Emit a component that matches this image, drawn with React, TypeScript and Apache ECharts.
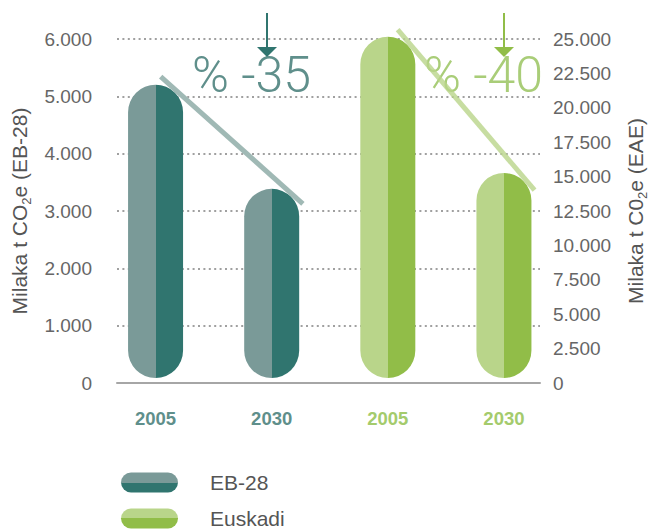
import React, { useEffect, useRef } from "react";
import * as echarts from "echarts";

const years = ["2005", "2030"];
const groups = ["EB-28", "Euskadi"];
const ebValues = [5115, 3300];
const euValues = [24800, 14900];
const leftAxis = { min: 0, max: 6000, interval: 1000 };
const rightAxis = { min: 0, max: 25000, interval: 2500 };
const reductionLabels = ["% -35", "% -40"];

const EB_LIGHT = "#7a9a98";
const EB_DARK = "#30756f";
const EU_LIGHT = "#b9d58a";
const EU_DARK = "#91bd48";
const FONT = "Liberation Sans";

const categories = [
  `${groups[0]} ${years[0]}`,
  `${groups[0]} ${years[1]}`,
  `${groups[1]} ${years[0]}`,
  `${groups[1]} ${years[1]}`,
];

const fmt = (v: number) => String(v).replace(/\B(?=(\d{3})+(?!\d))/g, ".");

const split = (light: string, dark: string, vertical: boolean) =>
  new echarts.graphic.LinearGradient(0, 0, vertical ? 0 : 1, vertical ? 1 : 0, [
    { offset: 0, color: light },
    { offset: 0.5, color: light },
    { offset: 0.5, color: dark },
    { offset: 1, color: dark },
  ]);

const BAR_W = 55;

function trendRender(color: string, before: number, after: number) {
  return (params: any, api: any) => {
    const r = BAR_W / 2;
    const lw = 5;
    const p0 = api.coord([api.value(0), api.value(1)]);
    const p1 = api.coord([api.value(2), api.value(3)]);
    const c0 = [p0[0], p0[1] + r];
    const c1 = [p1[0], p1[1] + r];
    const dx = c1[0] - c0[0];
    const dy = c1[1] - c0[1];
    const len = Math.hypot(dx, dy);
    const d = [dx / len, dy / len];
    const n = [d[1], -d[0]];
    const off = r + lw / 2;
    return {
      type: "line",
      shape: {
        x1: c0[0] + n[0] * off - d[0] * before,
        y1: c0[1] + n[1] * off - d[1] * before,
        x2: c1[0] + n[0] * off + d[0] * after,
        y2: c1[1] + n[1] * off + d[1] * after,
      },
      style: { stroke: color, lineWidth: lw, lineCap: "butt" },
    };
  };
}

const capsule = "path://M10,0 H47 A10,10 0 0 1 47,20 H10 A10,10 0 0 1 10,0 Z";

const nameStyle = {
  fontSize: 21,
  lineHeight: 28,
  color: "#555",
  fontFamily: FONT,
  rich: { sub: { fontSize: 13, color: "#555", verticalAlign: "bottom", lineHeight: 13 } },
};

const legendBase = {
  orient: "vertical",
  left: 121,
  padding: 0,
  itemWidth: 57,
  itemHeight: 20,
  textStyle: {
    fontSize: 21,
    lineHeight: 20,
    color: "#555",
    fontFamily: FONT,
    padding: [0, 0, 0, 27],
  },
};

export default function App() {
  const ref = useRef<HTMLDivElement>(null);
  useEffect(() => {
    if (!ref.current) return;
    const chart = echarts.init(ref.current, undefined, { renderer: "svg" });
    chart.setOption({
      animation: false,
      textStyle: { fontFamily: FONT },
      grid: [
        { left: 117, right: 114, top: 39, bottom: 146, outerBoundsMode: "none", containLabel: false },
        { left: 97.5, right: 92, top: 34, bottom: 151, outerBoundsMode: "none", containLabel: false },
      ],
      xAxis: [
        {
          gridIndex: 0,
          type: "category",
          data: [""],
          axisLine: { show: true, lineStyle: { color: "#a6a6a6", width: 2 } },
          axisTick: { show: false },
          axisLabel: { show: false },
          splitLine: { show: false },
        },
        {
          gridIndex: 1,
          type: "category",
          data: categories,
          axisLine: { show: false },
          axisTick: { show: false },
          axisLabel: {
            margin: 31,
            fontSize: 18.5,
            fontWeight: "bold",
            fontFamily: FONT,
            formatter: (v: string) => v.split(" ").pop(),
            color: (_v: any, i: number) => (i < 2 ? "#5f8f8b" : "#a4cb6c"),
          },
        },
      ],
      yAxis: [
        {
          gridIndex: 0,
          type: "value",
          position: "left",
          ...leftAxis,
          name: "Milaka t CO{sub|2}e (EB-28)",
          nameLocation: "middle",
          nameRotate: 90,
          nameGap: 84,
          nameMoveOverlap: false,
          nameTextStyle: nameStyle,
          axisLine: { show: false },
          axisTick: { show: false },
          axisLabel: { margin: 25, fontSize: 19, color: "#666", formatter: fmt },
          splitLine: {
            show: true,
            lineStyle: { color: "#a0a0a0", width: 2, type: [2, 3.4] },
          },
        },
        {
          gridIndex: 0,
          type: "value",
          position: "right",
          ...rightAxis,
          name: "Milaka t C0{sub|2}e (EAE)",
          nameLocation: "middle",
          nameRotate: 90,
          nameGap: 81,
          nameMoveOverlap: false,
          nameTextStyle: nameStyle,
          axisLine: { show: false },
          axisTick: { show: false },
          axisLabel: { margin: 13, fontSize: 19, color: "#666", formatter: fmt },
          splitLine: { show: false },
        },
        { gridIndex: 1, type: "value", ...leftAxis, show: false },
        { gridIndex: 1, type: "value", ...rightAxis, show: false },
      ],
      legend: [
        {
          ...legendBase,
          top: 472,
          data: [{ name: groups[0], icon: capsule, itemStyle: { color: split(EB_LIGHT, EB_DARK, true) } }],
        },
        {
          ...legendBase,
          top: 508,
          data: [{ name: groups[1], icon: capsule, itemStyle: { color: split(EU_LIGHT, EU_DARK, true) } }],
        },
      ],
      graphic: [
        {
          type: "text",
          x: 192,
          y: 75,
          z: 1,
          style: {
            text: reductionLabels[0],
            fontSize: 50,
            fontWeight: 300,
            fontFamily: "Roboto",
            fill: "#5f8f8b",
            verticalAlign: "middle",
          },
        },
        {
          type: "text",
          x: 424,
          y: 75,
          z: 1,
          style: {
            text: reductionLabels[1],
            fontSize: 50,
            fontWeight: 300,
            fontFamily: "Roboto",
            fill: "#a9cd78",
            verticalAlign: "middle",
          },
        },
        { type: "line", z: 1, shape: { x1: 267, y1: 13, x2: 267, y2: 48 }, style: { stroke: EB_DARK, lineWidth: 2 } },
        { type: "polygon", z: 1, shape: { points: [[257, 47], [277, 47], [267, 57]] }, style: { fill: EB_DARK } },
        { type: "line", z: 1, shape: { x1: 504, y1: 13, x2: 504, y2: 48 }, style: { stroke: EU_DARK, lineWidth: 2 } },
        { type: "polygon", z: 1, shape: { points: [[494, 47], [514, 47], [504, 57]] }, style: { fill: EU_DARK } },
      ],
      series: [
        {
          name: groups[0],
          type: "bar",
          xAxisIndex: 1,
          yAxisIndex: 2,
          barWidth: BAR_W,
          barGap: "-100%",
          data: [ebValues[0], ebValues[1], "-", "-"],
          itemStyle: { color: split(EB_LIGHT, EB_DARK, false), borderRadius: BAR_W / 2 },
        },
        {
          name: groups[1],
          type: "bar",
          xAxisIndex: 1,
          yAxisIndex: 3,
          barWidth: BAR_W,
          barGap: "-100%",
          data: ["-", "-", euValues[0], euValues[1]],
          itemStyle: { color: split(EU_LIGHT, EU_DARK, false), borderRadius: BAR_W / 2 },
        },
        {
          name: "trend-eb",
          type: "custom",
          xAxisIndex: 1,
          yAxisIndex: 2,
          z: 3,
          clip: false,
          silent: true,
          renderItem: trendRender("#a0b9b5", 20, 15),
          data: [[0, ebValues[0], 1, ebValues[1]]],
        },
        {
          name: "trend-eu",
          type: "custom",
          xAxisIndex: 1,
          yAxisIndex: 3,
          z: 3,
          clip: false,
          silent: true,
          renderItem: trendRender("rgba(185,213,138,0.8)", 20, 12),
          data: [[2, euValues[0], 3, euValues[1]]],
        },
      ],
    });
    return () => chart.dispose();
  }, []);
  return (
    <div
      ref={ref}
      style={{ position: "fixed", left: 0, top: 0, width: 654, height: 529, background: "#fff" }}
    />
  );
}
